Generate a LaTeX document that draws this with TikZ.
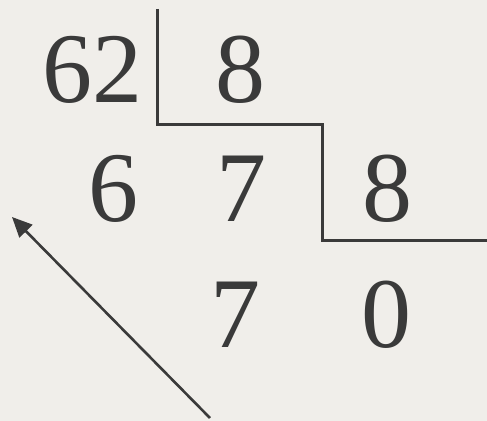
\documentclass[tikz,border=0pt]{standalone}
\usepackage{fontspec}
\setmainfont{Liberation Serif}
\usetikzlibrary{arrows.meta}
\definecolor{paper}{RGB}{240,238,234}
\definecolor{ink}{RGB}{58,58,58}

\begin{document}
\begin{tikzpicture}[x=0.5pt,y=-0.5pt,>={Triangle[length=10pt,width=9pt]},
    digit/.style={anchor=base,inner sep=0pt,text=ink,font=\fontsize{50}{60}\selectfont},
    bar/.style={draw=ink,line width=1.5pt}]
  \fill[paper] (0,0) rectangle (487,421);
  \useasboundingbox (0,0) rectangle (487,421);
  % first row
  \node[digit] (dividend) at (92,103) {62};
  \node[digit] (divisor) at (240,103) {8};
  % second row
  \node[digit] (sub6) at (113,222) {6};
  \node[digit] (quot7) at (241,222) {7};
  \node[digit] (divisor2) at (387,222) {8};
  % third row
  \node[digit] (rest7) at (235,348) {7};
  \node[digit] (quot0) at (386,348) {0};
  % stair bars
  \draw[bar] (157,9) -- (157,125) -- (322,125) -- (322,241) -- (487,241);
  % arrow
  \coordinate (tail) at (210,418);
  \coordinate (head) at (12,217);
  \draw[->,ink,line width=1.3pt] (tail) -- (head);
\end{tikzpicture}
\end{document}
